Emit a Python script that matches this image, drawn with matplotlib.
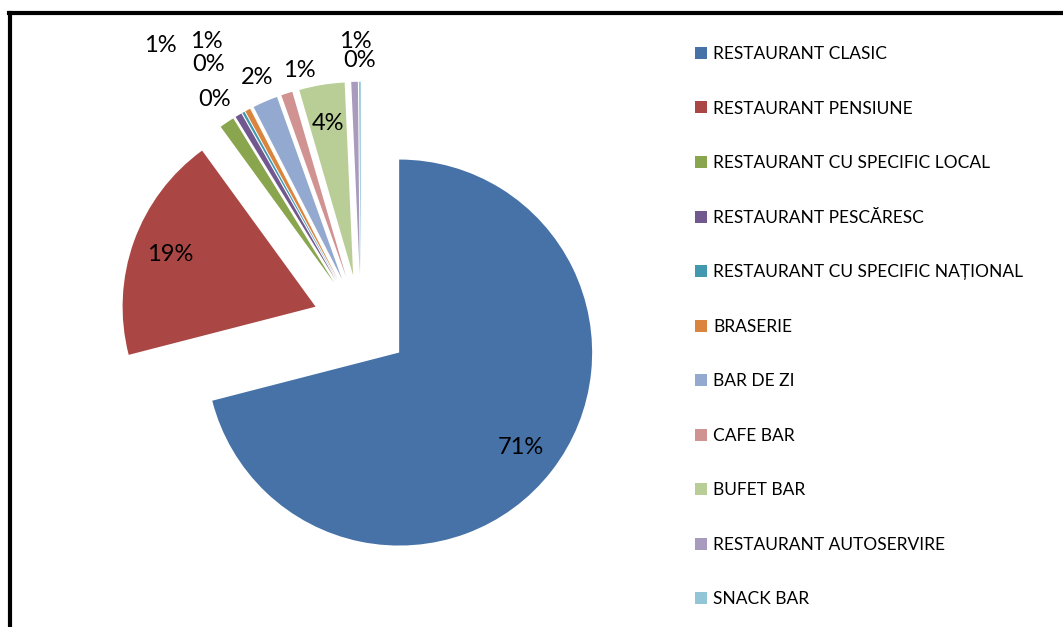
import matplotlib
matplotlib.use("Agg")
import matplotlib.pyplot as plt
from matplotlib.lines import Line2D

plt.rcParams['font.family'] = ['Lato', 'DejaVu Sans']

# share of each unit type, percent
categories = ["RESTAURANT CLASIC", "RESTAURANT PENSIUNE", "RESTAURANT CU SPECIFIC LOCAL",
              "RESTAURANT PESCĂRESC", "RESTAURANT CU SPECIFIC NAȚIONAL", "BRASERIE",
              "BAR DE ZI", "CAFE BAR", "BUFET BAR", "RESTAURANT AUTOSERVIRE", "SNACK BAR"]
shares = [70.95, 19.0, 1.25, 0.55, 0.2, 0.45, 2.1, 0.95, 3.8, 0.55, 0.15]

colors = ['#4672A8', '#AA4744', '#89A54E', '#71588F', '#4198AF', '#DB843D',
          '#93A9CF', '#D19392', '#B9CD96', '#A99BBD', '#92C5D6']

# where the small-slice labels sit (None = inside the slice)
label_xy = [None, None, (-1.04, 1.44), (-0.80, 1.46), (-0.79, 1.34), (-0.76, 1.16),
            (-0.54, 1.27), (-0.32, 1.31), None, (-0.03, 1.46), (-0.01, 1.36)]

W, H = 1063, 627
fig = plt.figure(figsize=(W / 100, H / 100), dpi=100)
ax = fig.add_axes([0, 0, 1, 1])

wedges, texts, autotexts = ax.pie(
    shares, explode=[0.25] * len(shares), colors=colors, startangle=90,
    counterclock=False, radius=1, pctdistance=0.8,
    autopct=lambda p: f"{p:.0f}%", wedgeprops=dict(linewidth=0),
    textprops=dict(fontsize=17, color='black'))

for t, xy in zip(autotexts, label_xy):
    if xy is not None:
        t.set_position(xy)

# pie centre at (361, 323) px, radius 193 px
cx, cy, r = 361, 323, 193
ax.set_aspect('auto')
ax.set_xlim(-cx / r, (W - cx) / r)
ax.set_ylim(-(H - cy) / r, cy / r)
ax.axis('off')

fig.legend(wedges, categories, loc='upper left',
           bbox_to_anchor=(695 / W, 1 - 46 / H), frameon=False,
           fontsize=12.5, handlelength=0.69, handleheight=0.69,
           handletextpad=0.35, labelspacing=2.22, borderpad=0, borderaxespad=0)

# outer chart frame (cut off at right and bottom)
fig.add_artist(Line2D([10 / W, 10 / W], [0, 1 - 12.5 / H], transform=fig.transFigure,
                      color='black', lw=3))
fig.add_artist(Line2D([8.5 / W, 1], [1 - 12.5 / H, 1 - 12.5 / H], transform=fig.transFigure,
                      color='black', lw=3))

fig.savefig("out.png", dpi=100)
